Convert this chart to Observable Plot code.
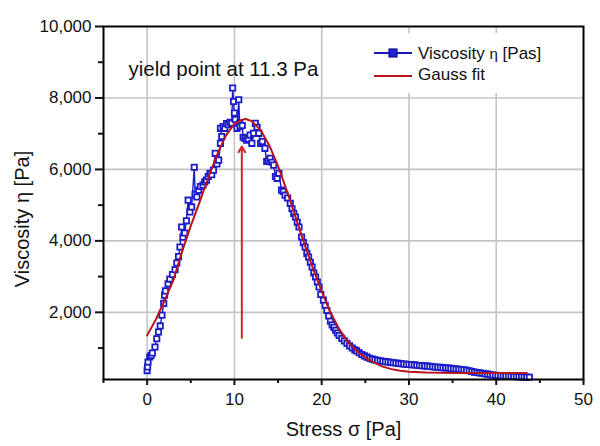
<!DOCTYPE html>
<html>
<head>
<meta charset="utf-8">
<script src="https://cdn.jsdelivr.net/npm/d3@7"></script>
<script src="https://cdn.jsdelivr.net/npm/@observablehq/plot@0.6"></script>
<style>
  body { margin: 0; background: white; font-family: "Liberation Sans", Arial, sans-serif; }
  #wrap { position: relative; width: 600px; height: 446px; }
  #legend { position: absolute; left: 366px; top: 33px; width: 190px; height: 60px; background: white; }
  #legend .t { position: absolute; font-size: 17px; color: #111; white-space: nowrap; }
  #legend svg { position: absolute; }
</style>
</head>
<body>
<div id="wrap">
  <div id="chart"></div>
  <div id="legend">
    <svg style="left:6px;top:13px" width="42" height="14">
      <line x1="2" y1="7" x2="40" y2="7" stroke="#1a1ab0" stroke-width="2"/>
      <rect x="17" y="3" width="8" height="8" fill="#2020d8" stroke="#101090" stroke-width="1.2"/>
    </svg>
    <span class="t" style="left:52px;top:11px">Viscosity <span style="font-size:15px">η</span> [Pas]</span>
    <svg style="left:6px;top:38px" width="42" height="10">
      <line x1="2" y1="5" x2="40" y2="5" stroke="#b8141c" stroke-width="2"/>
    </svg>
    <span class="t" style="left:52px;top:32px">Gauss fit</span>
  </div>
</div>
<script>
// Measured viscosity data (stress, viscosity), in measurement order
const stressX = [0.0,0.05,0.1,0.3,0.45,0.6,0.9,1.1,1.3,1.5,1.7,1.9,2.0,2.1,2.4,2.6,2.9,3.2,3.4,3.6,3.76,3.95,4.1,4.3,4.5,4.7,4.9,5.1,5.4,5.5,5.7,5.9,6.1,6.4,6.6,6.8,7.0,7.2,7.4,7.6,7.8,8.0,8.2,8.4,8.55,8.4,8.7,8.9,9.1,9.3,9.5,9.7,9.8,9.9,10.0,10.1,10.3,10.5,10.6,10.65,10.9,11.0,11.2,11.4,11.6,11.8,12.0,12.2,12.4,12.6,12.8,13.0,13.2,13.5,13.7,13.9,14.1,14.3,14.5,14.7,14.9,15.1,15.4,15.6,15.8,16.1,16.4,16.6,16.8,17.0,17.2,17.4,17.7,17.9,18.1,18.3,18.5,18.7,18.9,19.1,19.3,19.5,19.7,19.9,20.2,20.4,20.6,20.8,21.0,21.2,21.4,21.6,21.8,22.0,22.3,22.6,22.9,23.2,23.5,23.8,24.0,24.3,24.6,24.9,25.2,25.5,25.8,26.1,26.4,26.7,27.0,27.3,27.6,27.9,28.2,28.5,28.8,29.1,29.4,29.7,30.0,30.3,30.6,30.9,31.2,31.5,31.8,32.1,32.4,32.7,33.0,33.3,33.6,33.9,34.2,34.5,34.8,35.1,35.4,35.7,36.0,36.3,36.6,36.9,37.2,37.5,37.8,38.1,38.4,38.7,39.0,39.3,39.6,39.9,40.2,40.5,40.8,41.1,41.4,41.7,42.0,42.3,42.6,42.9,43.2,43.5,43.8];
const viscY = [370,470,610,750,790,860,1030,1260,1450,1620,1920,2250,2480,2600,2800,2930,3060,3190,3380,3560,3830,4390,4100,4220,4560,5140,4810,4950,6060,5300,5230,5420,5520,5560,5650,5700,5800,5890,5850,5980,6450,6150,6260,6730,6920,7150,7200,7150,7280,7250,7320,7290,8280,7900,7580,7400,7150,7950,7300,7200,7230,6900,6870,6820,6850,6960,6730,7010,7290,7180,7010,6730,6780,6590,6220,6250,6310,6200,6120,5800,5750,5890,5420,5380,5280,5200,5050,4900,4770,4670,4520,4390,4110,3950,3830,3650,3550,3400,3270,3100,2990,2850,2710,2500,2340,2200,2050,1900,1750,1650,1580,1500,1420,1350,1270,1200,1130,1060,1000,950,920,870,820,780,745,715,690,670,655,645,630,620,610,600,590,580,570,560,555,548,540,535,528,518,512,506,500,494,486,478,470,464,458,452,446,440,430,422,416,408,400,390,378,365,345,328,315,305,294,282,270,258,246,236,230,225,220,215,212,208,205,202,199,195,190,186,182];

// Gauss fit curve
const fitX = [0,1,2,3,4,5,6,7,8,9,10,11,11.3,12,13,14,15,16,17,18,19,20,21,22,23,24,25,26,27,28,29,30,32,35,38,41,43.5];
const fitY = [1355,1800,2330,2900,3700,4420,5080,5760,6400,6940,7280,7400,7410,7350,7100,6670,6090,5410,4670,3930,3230,2590,2000,1530,1180,920,730,590,480,410,365,340,315,305,300,300,300];

// Axis ticks
const xTicks = [0,10,20,30,40,50];
const xMinor = [-5,5,15,25,35,45];
const yTicks = [2000,4000,6000,8000,10000];
const yMinor = [1000,3000,5000,7000,9000];
const gridXs = [0,10,20,30,40];
const gridYs = [2000,4000,6000,8000];

// Yield point arrow
const arrowX = [10.85];
const arrowFrom = [1290];
const arrowTo = [6640];

const xLabel = "Stress σ [Pa]";
const yLabel = "Viscosity η [Pa]";
const annotation = "yield point at 11.3 Pa";

const data = stressX.map((x, i) => ({x, y: viscY[i]}));
const fit = fitX.map((x, i) => ({x, y: fitY[i]}));
const arrows = arrowX.map((x, i) => ({x, y1: arrowFrom[i], y2: arrowTo[i]}));

const blue = "#1c1cc8";
const red = "#b8141c";

const chart = Plot.plot({
  width: 600,
  height: 446,
  marginLeft: 103,
  marginRight: 17,
  marginTop: 26,
  marginBottom: 67,
  x: {domain: [-5, 50]},
  y: {domain: [120, 10000]},
  style: {fontFamily: '"Liberation Sans", Arial, sans-serif', background: "white", color: "#111"},
  marks: [
    Plot.gridX(gridXs, {stroke: "#c4c4c4", strokeOpacity: 1, strokeWidth: 1.6}),
    Plot.gridY(gridYs, {stroke: "#c4c4c4", strokeOpacity: 1, strokeWidth: 1.6}),
    Plot.line(data, {x: "x", y: "y", stroke: blue, strokeWidth: 1.4}),
    Plot.dot(data, {x: "x", y: "y", symbol: "square", r: 3, stroke: blue, strokeWidth: 1.8, fill: "white"}),
    Plot.line(fit, {x: "x", y: "y", stroke: red, strokeWidth: 2}),
    Plot.arrow(arrows, {x1: "x", x2: "x", y1: "y1", y2: "y2", stroke: "#d02626", strokeWidth: 2, headLength: 5}),
    Plot.frame({stroke: "black", strokeWidth: 2}),
    Plot.axisX(xTicks, {tickSize: 6, tickPadding: 7, fontSize: 17, strokeWidth: 2, label: null}),
    Plot.axisX(xMinor, {tickSize: 4, tickFormat: () => "", strokeWidth: 2, label: null}),
    Plot.axisY(yTicks, {tickSize: 8, tickPadding: 4, fontSize: 17, strokeWidth: 2, tickFormat: d3.format(","), label: null}),
    Plot.axisY(yMinor, {tickSize: 5, tickFormat: () => "", strokeWidth: 2, label: null}),
    Plot.text([xLabel], {text: d => d, frameAnchor: "bottom", dy: 56, fontSize: 20}),
    Plot.text([yLabel], {text: d => d, frameAnchor: "left", textAnchor: "middle", rotate: -90, dx: -81, dy: 16, fontSize: 20}),
    Plot.text([annotation], {text: d => d, frameAnchor: "top-left", textAnchor: "start", dx: 25, dy: 35, fontSize: 20.5})
  ]
});
document.getElementById("chart").appendChild(chart);
</script>
</body>
</html>
